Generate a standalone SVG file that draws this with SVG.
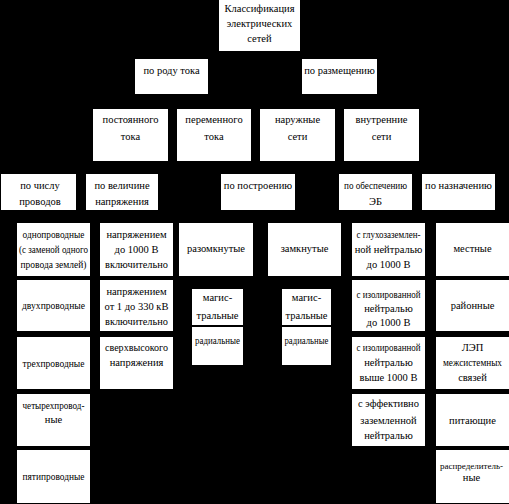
<svg xmlns="http://www.w3.org/2000/svg" width="509" height="504" viewBox="0 0 509 504">
<style>
.b{fill:#fff;stroke:none}
.t{font-family:"Liberation Serif","Times New Roman",serif;font-size:10.5px;fill:#000;text-anchor:middle}
</style>
<rect x="0" y="0" width="509" height="504" fill="#000"/>
<g id="connectors"></g>
<g id="title"><rect class="b" x="219" y="0" width="81" height="51"/><text class="t" x="259.5" y="12">Классификация</text><text class="t" x="259.5" y="27">электрических</text><text class="t" x="259.5" y="42">сетей</text></g>
<g id="n-rod"><rect class="b" x="135" y="59" width="73" height="35"/><text class="t" x="171.5" y="74">по роду тока</text></g>
<g id="n-razm"><rect class="b" x="302" y="59" width="75" height="35"/><text class="t" x="339.5" y="74">по размещению</text></g>
<g id="n-post"><rect class="b" x="93" y="109" width="75" height="52"/><text class="t" x="130.5" y="123">постоянного</text><text class="t" x="130.5" y="140">тока</text></g>
<g id="n-per"><rect class="b" x="177" y="109" width="74" height="52"/><text class="t" x="214" y="123">переменного</text><text class="t" x="214" y="140">тока</text></g>
<g id="n-nar"><rect class="b" x="260" y="109" width="75" height="52"/><text class="t" x="297.5" y="123">наружные</text><text class="t" x="297.5" y="140">сети</text></g>
<g id="n-vnut"><rect class="b" x="344" y="109" width="75" height="52"/><text class="t" x="381.5" y="123">внутренние</text><text class="t" x="381.5" y="140">сети</text></g>
<g id="n-chislo"><rect class="b" x="1" y="174" width="75" height="36"/><text class="t" x="40" y="189">по числу</text><text class="t" x="40" y="205">проводов</text></g>
<g id="n-vel"><rect class="b" x="86" y="174" width="72" height="36"/><text class="t" x="122" y="189">по величине</text><text class="t" x="122" y="205">напряжения</text></g>
<g id="n-postr"><rect class="b" x="221" y="174" width="74" height="36"/><text class="t" x="258" y="189">по построению</text></g>
<g id="n-obesp"><rect class="b" x="339" y="174" width="73" height="36"/><text class="t" x="375.5" y="189" textLength="63" lengthAdjust="spacingAndGlyphs">по обеспечению</text><text class="t" x="375.5" y="205">ЭБ</text></g>
<g id="n-nazn"><rect class="b" x="422" y="174" width="73" height="36"/><text class="t" x="458.5" y="189">по назначению</text></g>
<g id="a1"><rect class="b" x="17" y="223" width="73" height="53"/><text class="t" x="53.5" y="238" textLength="62" lengthAdjust="spacingAndGlyphs">однопроводные</text><text class="t" x="53.5" y="253" textLength="69" lengthAdjust="spacingAndGlyphs">(с заменой одного</text><text class="t" x="53.5" y="268" textLength="66" lengthAdjust="spacingAndGlyphs">провода землей)</text></g>
<g id="a2"><rect class="b" x="17" y="280" width="73" height="51"/><text class="t" x="53.5" y="309" textLength="63" lengthAdjust="spacingAndGlyphs">двухпроводные</text></g>
<g id="a3"><rect class="b" x="17" y="337" width="73" height="52"/><text class="t" x="53.5" y="367" textLength="62" lengthAdjust="spacingAndGlyphs">трехпроводные</text></g>
<g id="a4"><rect class="b" x="17" y="394" width="73" height="52"/><text class="t" x="53.5" y="409" textLength="62" lengthAdjust="spacingAndGlyphs">четырехпровод-</text><text class="t" x="53.5" y="423">ные</text></g>
<g id="a5"><rect class="b" x="17" y="450" width="73" height="53"/><text class="t" x="53.5" y="480" textLength="62" lengthAdjust="spacingAndGlyphs">пятипроводные</text></g>
<g id="b1"><rect class="b" x="100" y="223" width="73" height="53"/><text class="t" x="136.5" y="238">напряжением</text><text class="t" x="136.5" y="253">до 1000 В</text><text class="t" x="136.5" y="268" textLength="63" lengthAdjust="spacingAndGlyphs">включительно</text></g>
<g id="b2"><rect class="b" x="100" y="280" width="73" height="51"/><text class="t" x="136.5" y="295">напряжением</text><text class="t" x="136.5" y="310">от 1 до 330 кВ</text><text class="t" x="136.5" y="325" textLength="63" lengthAdjust="spacingAndGlyphs">включительно</text></g>
<g id="b3"><rect class="b" x="100" y="337" width="73" height="52"/><text class="t" x="136.5" y="351" textLength="63" lengthAdjust="spacingAndGlyphs">сверхвысокого</text><text class="t" x="136.5" y="366">напряжения</text></g>
<g id="c1"><rect class="b" x="179" y="223" width="74" height="53"/><text class="t" x="216" y="252">разомкнутые</text></g>
<g id="c2"><rect class="b" x="192" y="289" width="51" height="36"/><text class="t" x="217.5" y="301">магис-</text><text class="t" x="217.5" y="319">тральные</text></g>
<g id="c3"><rect class="b" x="192" y="327" width="51" height="38"/><text class="t" x="217.5" y="344" textLength="45" lengthAdjust="spacingAndGlyphs">радиальные</text></g>
<g id="d1"><rect class="b" x="268" y="223" width="73" height="53"/><text class="t" x="304.5" y="252">замкнутые</text></g>
<g id="d2"><rect class="b" x="282" y="289" width="49" height="36"/><text class="t" x="306.5" y="301">магис-</text><text class="t" x="306.5" y="319">тральные</text></g>
<g id="d3"><rect class="b" x="282" y="327" width="49" height="38"/><text class="t" x="306.5" y="344" textLength="44" lengthAdjust="spacingAndGlyphs">радиальные</text></g>
<g id="e1"><rect class="b" x="352" y="223" width="73" height="53"/><text class="t" x="388.5" y="238" textLength="64" lengthAdjust="spacingAndGlyphs">с глухозаземлен-</text><text class="t" x="388.5" y="253">ной нейтралью</text><text class="t" x="388.5" y="268">до 1000 В</text></g>
<g id="e2"><rect class="b" x="352" y="280" width="73" height="51"/><text class="t" x="388.5" y="298" textLength="64" lengthAdjust="spacingAndGlyphs">с изолированной</text><text class="t" x="388.5" y="312">нейтралью</text><text class="t" x="388.5" y="326">до 1000 В</text></g>
<g id="e3"><rect class="b" x="352" y="337" width="73" height="52"/><text class="t" x="388.5" y="351" textLength="64" lengthAdjust="spacingAndGlyphs">с изолированной</text><text class="t" x="388.5" y="366">нейтралью</text><text class="t" x="388.5" y="381">выше 1000 В</text></g>
<g id="e4"><rect class="b" x="352" y="394" width="73" height="52"/><text class="t" x="388.5" y="407">с эффективно</text><text class="t" x="388.5" y="424">заземленной</text><text class="t" x="388.5" y="439">нейтралью</text></g>
<g id="f1"><rect class="b" x="436" y="223" width="73" height="53"/><text class="t" x="472.5" y="252">местные</text></g>
<g id="f2"><rect class="b" x="436" y="280" width="73" height="51"/><text class="t" x="472.5" y="309">районные</text></g>
<g id="f3"><rect class="b" x="436" y="337" width="73" height="52"/><text class="t" x="472.5" y="351">ЛЭП</text><text class="t" x="472.5" y="366" textLength="59" lengthAdjust="spacingAndGlyphs">межсистемных</text><text class="t" x="472.5" y="381">связей</text></g>
<g id="f4"><rect class="b" x="436" y="394" width="73" height="52"/><text class="t" x="472.5" y="424">питающие</text></g>
<g id="f5"><rect class="b" x="436" y="450" width="73" height="53"/><text class="t" x="471.5" y="469" style="font-size:9px">распределитель-</text><text class="t" x="471.5" y="481">ные</text></g>
</svg>
